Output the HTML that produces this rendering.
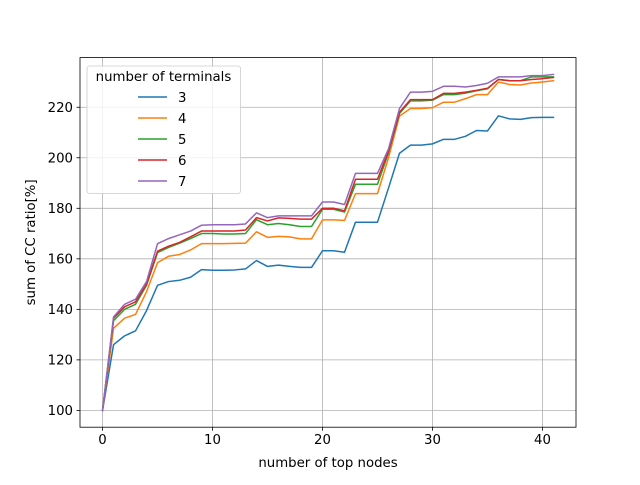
<!DOCTYPE html>
<html><head><meta charset="utf-8"><style>
body{margin:0;background:#fff;}
svg text{font-family:"DejaVu Sans","Liberation Sans",sans-serif;}
</style></head><body>
<svg id="chart" width="640" height="480" xmlns="http://www.w3.org/2000/svg"></svg>
<script>
const xValues = Array.from({length:42},(_, i)=>i);
const seriesNames = ["3","4","5","6","7"];
const seriesColors = ["#1f77b4","#ff7f0e","#2ca02c","#d62728","#9467bd"];
const s3 = [100,126,129.5,131.5,139.5,149.5,151,151.5,152.7,155.7,155.5,155.5,155.6,156,159.3,157,157.5,157,156.6,156.6,163.2,163.2,162.6,174.5,174.5,174.5,188,201.8,205,205,205.5,207.3,207.3,208.5,210.8,210.6,216.6,215.4,215.2,215.9,216,216];
const s4 = [100,132.5,136.5,138,147,158.5,161,161.7,163.5,166,166,166,166.1,166.2,170.7,168.5,168.9,168.7,167.9,167.9,175.4,175.4,175.2,185.8,185.8,185.8,200,216.5,219.5,219.5,219.8,222,222,223.4,225,225,230,229,228.8,229.6,230,230.5];
const s5 = [100,135.5,140,142,149.5,162.5,164.5,166.2,168,170,170,169.8,169.8,170,175.5,173.5,174,173.5,172.8,172.8,179.6,179.6,178.5,189.5,189.5,189.5,202,217.5,222.5,222.5,222.8,225,225,225.6,226.5,227.3,231,230.5,230.5,232,232,232];
const s6 = [100,136.5,141,143,150,163,165,166.5,168.7,171,171,171,171,171.4,176.3,175,176.2,176,175.7,175.7,180,180,179,191.5,191.5,191.5,202.5,218,223,223,223,225.5,225.5,226,226.7,227.5,231,230.5,230.5,231,231.3,231.8];
const s7 = [100,137,142,144,151,166,168,169.5,171,173.3,173.5,173.5,173.5,173.8,178.2,176.3,177,177,177,177,182.5,182.5,181.5,193.8,193.8,193.8,203.5,219.5,226,226,226.3,228.3,228.3,228,228.6,229.5,232,232,232,232.5,232.5,233];
const xTicks = [0,10,20,30,40];
const yTicks = [100,120,140,160,180,200,220];

const allSeries=[s3,s4,s5,s6,s7];
const L=80,R=576,T=57.6,B=427.2;
const xmin=Math.min(...xValues),xmax=Math.max(...xValues);
const allV=allSeries.flat();
const ymin=Math.min(...allV),ymax=Math.max(...allV);
const xpad=(xmax-xmin)*0.05,ypad=(ymax-ymin)*0.05;
const xs=v=>L+(v-(xmin-xpad))/((xmax+xpad)-(xmin-xpad))*(R-L);
const ys=v=>B-(v-(ymin-ypad))/((ymax+ypad)-(ymin-ypad))*(B-T);
const svg=document.getElementById('chart');
const NS="http://www.w3.org/2000/svg";
function mk(tag,attrs,parent){const e=document.createElementNS(NS,tag);for(const k in attrs)e.setAttribute(k,attrs[k]);(parent||svg).appendChild(e);return e;}

xTicks.forEach(t=>{
  const x=xs(t);
  const g=mk('line',{x1:x,x2:x,y1:T,y2:B,stroke:'#b0b0b0','stroke-width':0.8});
  
  
  const tk=mk('line',{x1:x,x2:x,y1:B,y2:B+3.5,stroke:'#000','stroke-width':0.8});
  
  
  const tx=mk('text',{x:x,y:B+17,'font-size':13.3,'text-anchor':'middle',fill:'#000'});
  tx.textContent=t;
  
  
});
yTicks.forEach(t=>{
  const y=ys(t);
  const g=mk('line',{x1:L,x2:R,y1:y,y2:y,stroke:'#b0b0b0','stroke-width':0.8});
  
  
  const tk=mk('line',{x1:L-3.5,x2:L,y1:y,y2:y,stroke:'#000','stroke-width':0.8});
  
  
  const tx=mk('text',{x:L-7,y:y+4.8,'font-size':13.3,'text-anchor':'end',fill:'#000'});
  tx.textContent=t;
  
  
});

allSeries.forEach((s,i)=>{
  const pts=s.map((v,j)=>xs(xValues[j]).toFixed(2)+','+ys(v).toFixed(2)).join(' ');
  const p=mk('polyline',{points:pts,fill:'none',stroke:seriesColors[i],'stroke-width':1.5,'stroke-linejoin':'round','stroke-linecap':'square'});
  
  
});

const fr=mk('rect',{x:L,y:T,width:R-L,height:B-T,fill:'none',stroke:'#000','stroke-width':0.8});



const xl=mk('text',{x:(L+R)/2,y:467,'font-size':13.3,'text-anchor':'middle',fill:'#000'});
xl.textContent='number of top nodes';


const yl=mk('text',{x:0,y:0,'font-size':13.3,'text-anchor':'middle',fill:'#000',transform:'translate(35,'+((T+B)/2)+') rotate(-90)'});
yl.textContent='sum of CC ratio[%]';



const lg=mk('g',{});


mk('rect',{x:87,y:66,width:153.5,height:127.5,rx:2.5,fill:'#fff','fill-opacity':0.8,stroke:'#cccccc','stroke-width':0.8},lg);
const lt=mk('text',{x:163.5,y:81,'font-size':13.3,'text-anchor':'middle',fill:'#000'},lg);
lt.textContent='number of terminals';


seriesNames.forEach((n,i)=>{
  const y=97+i*21;
  const e=mk('g',{},lg);
  
  
  mk('line',{x1:138,x2:167,y1:y,y2:y,stroke:seriesColors[i],'stroke-width':1.5},e);
  const t=mk('text',{x:178,y:y+4.8,'font-size':13.3,fill:'#000'},e);
  t.textContent=n;
});
</script>
</body></html>
